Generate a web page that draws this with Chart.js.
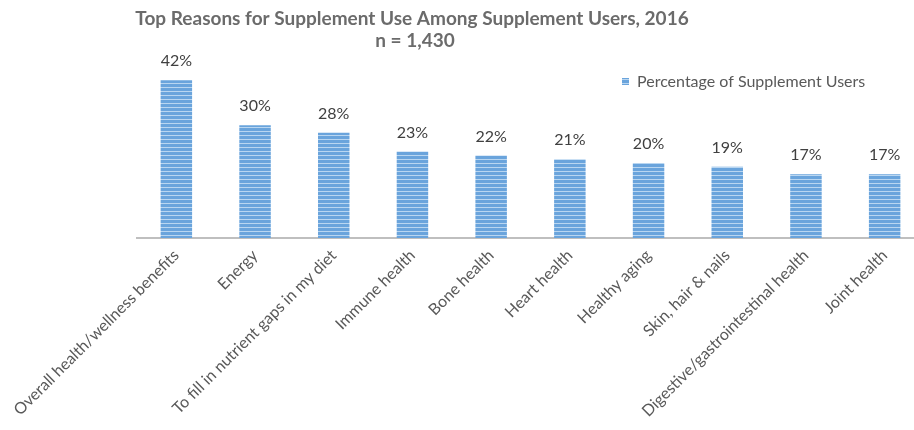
<!DOCTYPE html>
<html>
<head>
<meta charset="utf-8">
<script src="https://cdn.jsdelivr.net/npm/chart.js@4.4.0/dist/chart.umd.min.js"></script>
<style>
  html, body { margin: 0; padding: 0; background: #fff; overflow: hidden; }
</style>
</head>
<body>
<!-- canvas runs a little past the window edge, like the cropped source image -->
<canvas id="myChart" width="924" height="430"></canvas>
<script>
// chart data
const reasons = [
    'Overall health/wellness benefits',
    'Energy',
    'To fill in nutrient gaps in my diet',
    'Immune health',
    'Bone health',
    'Heart health',
    'Healthy aging',
    'Skin, hair & nails',
    'Digestive/gastrointestinal health',
    'Joint health'
];
const percentages = [42, 30, 28, 23, 22, 21, 20, 19, 17, 17];
const seriesName = 'Percentage of Supplement Users';
const titleText = 'Top Reasons for Supplement Use Among Supplement Users, 2016';
const subtitleText = 'n = 1,430';

const fontFamily = 'Lato, "Open Sans", sans-serif';
const textGrey = '#595959';

const chartContext = document.getElementById('myChart').getContext('2d');

// striped fill like the original bars
const stripe = document.createElement('canvas');
stripe.width = 4;
stripe.height = 4;
const stripeCtx = stripe.getContext('2d');
stripeCtx.fillStyle = '#6aa4dc';
stripeCtx.fillRect(0, 0, 4, 4);
stripeCtx.fillStyle = '#b9d6f1';
stripeCtx.fillRect(0, 3, 4, 1);
const barFill = chartContext.createPattern(stripe, 'repeat');

// title + subtitle
const titleBlock = {
    id: 'titleBlock',
    afterDraw(chart) {
        const ctx = chart.ctx;
        ctx.save();
        ctx.fillStyle = '#6b6b6b';
        ctx.font = 'bold 19px ' + fontFamily;
        ctx.textAlign = 'center';
        ctx.textBaseline = 'middle';
        ctx.fillText(titleText, 412, 19, 560);
        ctx.fillText(subtitleText, 415, 41);
        ctx.restore();
    }
};

// legend sits inside the plot, top right
const legendBox = {
    id: 'legendBox',
    afterDraw(chart) {
        const ctx = chart.ctx;
        const ds = chart.data.datasets[0];
        ctx.save();
        ctx.fillStyle = ds.backgroundColor;
        ctx.fillRect(622, 78, 7, 7);
        ctx.fillStyle = textGrey;
        ctx.font = '16px ' + fontFamily;
        ctx.textAlign = 'left';
        ctx.textBaseline = 'middle';
        ctx.fillText(ds.label, 637, 82);
        ctx.restore();
    }
};

// percentage labels above each bar
const valueLabels = {
    id: 'valueLabels',
    afterDatasetsDraw(chart) {
        const ctx = chart.ctx;
        const meta = chart.getDatasetMeta(0);
        ctx.save();
        ctx.font = '16px ' + fontFamily;
        ctx.fillStyle = '#404040';
        ctx.textAlign = 'center';
        ctx.textBaseline = 'middle';
        meta.data.forEach((bar, i) => {
            ctx.fillText(percentages[i] + '%', bar.x, bar.y - 19);
        });
        ctx.restore();
    }
};

const chart = new Chart(chartContext, {
    type: 'bar',
    data: {
        labels: reasons,
        datasets: [{
            label: seriesName,
            data: percentages,
            backgroundColor: barFill,
            borderWidth: 0,
            categoryPercentage: 1,
            barPercentage: 0.4
        }]
    },
    options: {
        responsive: false,
        animation: false,
        layout: {
            padding: { left: 137, right: 0, top: 69, bottom: 0 }
        },
        plugins: {
            title: { display: false },
            tooltip: { enabled: false },
            legend: { display: false }
        },
        scales: {
            x: {
                grid: { display: false, drawTicks: false },
                border: { display: true, color: '#bfbfbf', width: 2 },
                ticks: {
                    autoSkip: false,
                    maxRotation: 45,
                    minRotation: 45,
                    color: textGrey,
                    padding: 8,
                    font: { family: fontFamily, size: 16 }
                },
                afterFit: (scale) => { scale.height = 192; }
            },
            y: {
                display: false,
                min: 0,
                max: 45
            }
        }
    },
    plugins: [valueLabels, legendBox, titleBlock]
});
</script>
</body>
</html>
